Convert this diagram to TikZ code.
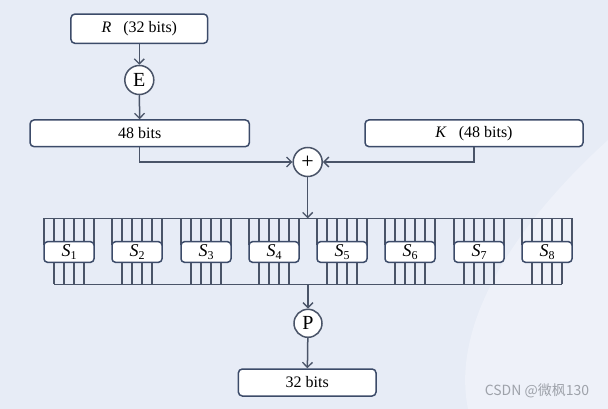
\documentclass[tikz,border=0pt]{standalone}
\usepackage{fontspec}
\setmainfont{Liberation Serif}
\newfontfamily\cjk{Noto Sans CJK SC}
\usetikzlibrary{arrows.meta}
\definecolor{bgcol}{RGB}{231,236,246}
\definecolor{bglight}{RGB}{238,241,249}
\definecolor{linecol}{RGB}{74,84,104}
\definecolor{boxcol}{RGB}{60,75,105}
\definecolor{wmcol}{RGB}{158,162,170}
\tikzset{
  ln/.style={draw=linecol, line width=1.5pt},
  arr/.style={ln, -{Straight Barb[length=5pt,width=10pt,line width=1.3pt]}},
  bitbox/.style={draw=boxcol, line width=1.5pt, fill=white, rounded corners=4pt, inner sep=0pt, font=\fontsize{16}{18}\selectfont},
  opnode/.style={circle, draw=linecol, line width=1.5pt, fill=white, inner sep=0pt, minimum size=29pt, font=\fontsize{20}{22}\selectfont},
  sbox/.style={draw=boxcol, line width=1.5pt, fill=white, rounded corners=3.5pt, inner sep=0pt, minimum width=50pt, minimum height=20.6pt, font=\fontsize{18}{20}\selectfont},
}
\newcommand{\sname}[1]{\textit{S}\raisebox{-0.45ex}{\fontsize{12}{12}\selectfont #1}}
\begin{document}
\begin{tikzpicture}[x=1pt,y=-1pt]
\fill[bgcol] (0,0) rectangle (608,409);
\fill[bglight] (608,140) .. controls (520,220) and (450,320) .. (468,409) -- (608,409) -- cycle;
\useasboundingbox (0,0) rectangle (608,409);

\node[bitbox, minimum width=136.7pt, minimum height=29.3pt] (R) at (139.3,28.7) {\textit{R}\hspace{12pt}(32 bits)};
\node[opnode] (E) at (139.3,80) {E};
\node[bitbox, minimum width=219.3pt, minimum height=26.7pt] (b48) at (139.7,133.3) {48 bits};
\node[bitbox, minimum width=218pt, minimum height=26.7pt] (K) at (474,133.3) {\textit{K}\hspace{12pt}(48 bits)};
\node[opnode, font=\fontsize{22}{22}\selectfont] (X) at (307.7,162) {+};
\node[opnode, minimum size=28pt] (P) at (308,323.3) {P};
\node[bitbox, minimum width=137.7pt, minimum height=27pt] (out) at (307.2,382.5) {32 bits};

\coordinate (topL) at (44,218.3);
\coordinate (topR) at (572,218.3);
\coordinate (botL) at (54,284.3);
\coordinate (botR) at (562,284.3);
\coordinate (topC) at (307.7,218.3);
\coordinate (botC) at (308,284.3);

\draw[arr] (R) -- (E);
\draw[arr] (E) -- (b48);
\draw[arr] (b48.south) |- (X);
\draw[arr] (K.south) |- (X);
\draw[arr] (X) -- (topC);

\draw[ln] (topL) -- (topR);
\draw[ln] (botL) -- (botR);

\foreach \i in {1,...,8}{
  \pgfmathsetmacro{\xl}{round(44+68.25*(\i-1))}
  \foreach \k in {0,...,5}{
    \draw[ln] (\xl+10*\k,218.3) -- (\xl+10*\k,245);
  }
  \foreach \k in {1,...,4}{
    \draw[ln] (\xl+10*\k,258) -- (\xl+10*\k,284.3);
  }
  \node[sbox] (S\i) at (\xl+25,252) {\sname{\i}};
}

\draw[arr] (botC) -- (P);
\draw[arr] (P) -- (out);

\node[text=wmcol, font=\cjk\fontsize{14}{16}\selectfont] (wm) at (537,391) {CSDN @微枫130};
\end{tikzpicture}
\end{document}
